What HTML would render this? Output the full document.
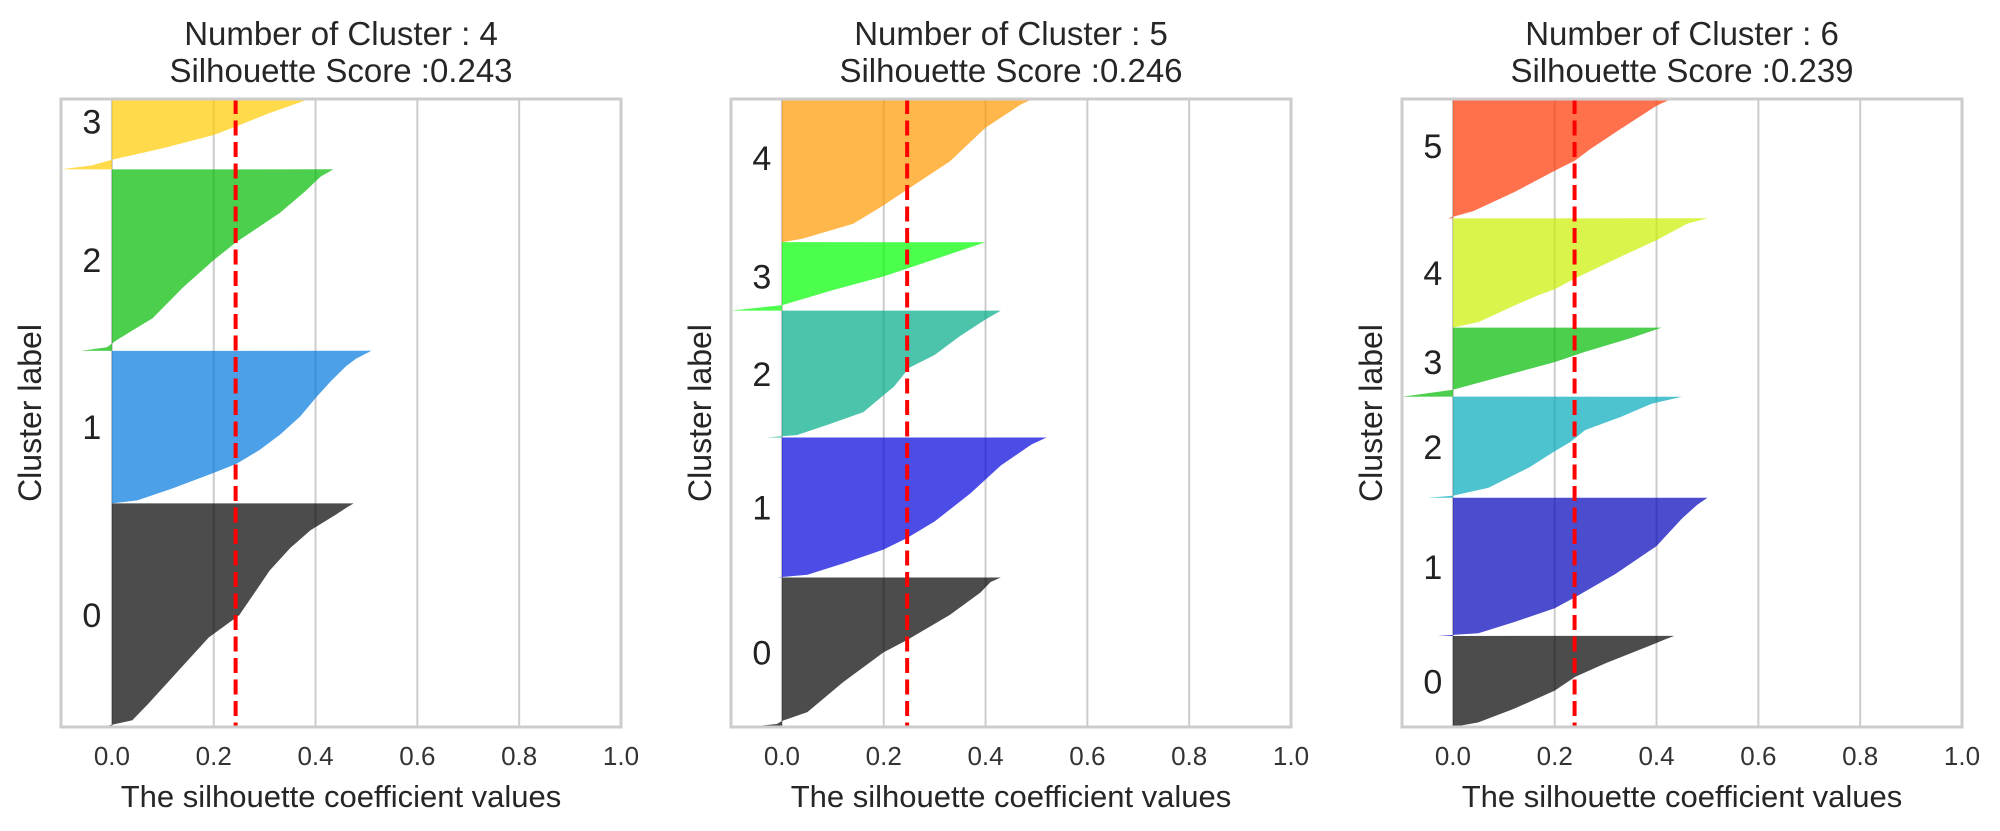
<!DOCTYPE html>
<html><head><meta charset="utf-8"><style>
html,body{margin:0;padding:0;background:#fff;}
svg{display:block;font-family:"Liberation Sans",sans-serif;}
</style></head><body>
<svg id="chart" width="2000" height="831" viewBox="0 0 2000 831" xmlns="http://www.w3.org/2000/svg"></svg>
<script>
// ---- data ----
const nClusters = [4, 5, 6];
const avgScores = [0.243, 0.246, 0.239];
const xTicks = [0.0, 0.2, 0.4, 0.6, 0.8, 1.0];
const xTickLabels = ["0.0", "0.2", "0.4", "0.6", "0.8", "1.0"];
// cluster y-ranges (axis units, 0..100 visible)
const p1Starts = [0, 35.6, 59.9, 88.8];
const p1Ends = [35.6, 59.9, 88.8, 104];
const p2Starts = [0, 23.8, 46.1, 66.3, 77.2];
const p2Ends = [23.8, 46.1, 66.3, 77.2, 104];
const p3Starts = [0, 14.5, 36.5, 52.6, 63.6, 81.0];
const p3Ends = [14.5, 36.5, 52.6, 63.6, 81.0, 104];
// silhouette profiles: [fraction of cluster height, silhouette value]
const p1Profiles = [
 [[0,-0.02],[0.03,0.04],[0.1,0.07],[0.2,0.11],[0.3,0.15],[0.4,0.19],[0.5,0.25],[0.6,0.28],[0.7,0.31],[0.8,0.35],[0.88,0.39],[0.95,0.44],[0.98,0.46],[1,0.475]],
 [[0,0.0],[0.02,0.05],[0.1,0.12],[0.2,0.2],[0.26,0.245],[0.35,0.29],[0.45,0.33],[0.57,0.37],[0.69,0.4],[0.8,0.43],[0.9,0.46],[0.95,0.48],[1,0.51]],
 [[0,-0.06],[0.02,-0.01],[0.06,0.01],[0.18,0.08],[0.35,0.14],[0.5,0.2],[0.6,0.245],[0.76,0.33],[0.88,0.38],[0.96,0.41],[1,0.435]],
 [[0,-0.1],[0.04,-0.04],[0.1,0.0],[0.22,0.1],[0.36,0.2],[0.44,0.24],[0.59,0.31],[0.74,0.39],[1,0.5]]
];
const p2Profiles = [
 [[0,-0.07],[0.02,-0.01],[0.04,0.0],[0.1,0.05],[0.3,0.12],[0.5,0.2],[0.58,0.245],[0.75,0.33],[0.9,0.39],[0.97,0.41],[1,0.43]],
 [[0,-0.01],[0.02,0.05],[0.1,0.12],[0.2,0.2],[0.28,0.245],[0.4,0.3],[0.6,0.37],[0.8,0.43],[0.95,0.49],[1,0.52]],
 [[0,-0.03],[0.02,0.03],[0.1,0.09],[0.2,0.16],[0.3,0.19],[0.4,0.22],[0.55,0.25],[0.65,0.3],[0.8,0.35],[0.93,0.4],[1,0.43]],
 [[0,-0.1],[0.08,0.0],[0.3,0.1],[0.5,0.2],[0.7,0.28],[0.9,0.36],[1,0.4]],
 [[0,0.0],[0.02,0.04],[0.11,0.14],[0.22,0.2],[0.31,0.245],[0.48,0.33],[0.68,0.4],[0.82,0.47],[0.86,0.5],[1,0.55]]
];
const p3Profiles = [
 [[0,0.0],[0.05,0.05],[0.2,0.12],[0.4,0.2],[0.55,0.24],[0.7,0.3],[0.9,0.39],[0.97,0.42],[1,0.435]],
 [[0,-0.03],[0.02,0.05],[0.1,0.12],[0.2,0.2],[0.28,0.24],[0.45,0.32],[0.65,0.4],[0.85,0.45],[0.95,0.48],[1,0.5]],
 [[0,-0.05],[0.02,0.0],[0.1,0.07],[0.3,0.15],[0.46,0.2],[0.55,0.23],[0.67,0.26],[0.8,0.33],[0.93,0.39],[1,0.45]],
 [[0,-0.1],[0.1,0.0],[0.3,0.1],[0.5,0.2],[0.65,0.26],[0.85,0.35],[1,0.41]],
 [[0,0.0],[0.05,0.05],[0.2,0.12],[0.3,0.17],[0.35,0.2],[0.45,0.24],[0.65,0.33],[0.8,0.4],[0.95,0.46],[1,0.5]],
 [[0,-0.01],[0.05,0.04],[0.18,0.12],[0.33,0.2],[0.4,0.24],[0.48,0.27],[0.62,0.33],[0.78,0.4],[0.86,0.45],[1,0.5]]
];
const p1Colors = ["#000000","#0077dd","#00bb00","#ffcc00"];
const p2Colors = ["#000000","#0000dd","#00aa88","#00ff00","#ff9900"];
const p3Colors = ["#000000","#0000bb","#00aabb","#00bb00","#ccf000","#ff3300"];

const panels = [
 {left:61, starts:p1Starts, ends:p1Ends, profiles:p1Profiles, colors:p1Colors},
 {left:731, starts:p2Starts, ends:p2Ends, profiles:p2Profiles, colors:p2Colors},
 {left:1402, starts:p3Starts, ends:p3Ends, profiles:p3Profiles, colors:p3Colors}
];
const NS = "http://www.w3.org/2000/svg";
const svg = document.getElementById("chart");
const TOP = 99, BOTTOM = 727, W = 560;
function mk(tag, attrs, parent){const e=document.createElementNS(NS,tag);for(const k in attrs)e.setAttribute(k,attrs[k]);(parent||svg).appendChild(e);return e;}

panels.forEach((p, pi) => {
  const xs = v => p.left + (v + 0.1) / 1.1 * W;
  const ys = v => BOTTOM - v / 100 * (BOTTOM - TOP);
  const g = mk("g", {});
  
  
  const cid = "clip" + pi;
  const cp = mk("clipPath", {id: cid}, g);
  mk("rect", {x: p.left, y: TOP, width: W, height: BOTTOM - TOP}, cp);
  xTicks.forEach((t, i) => {
    const gl = mk("line", {x1: xs(t), x2: xs(t), y1: TOP, y2: BOTTOM, stroke: "#cccccc", "stroke-width": 2}, g);
    
    
    const tl = mk("text", {x: xs(t), y: 765, "text-anchor": "middle", "font-size": 26, fill: "#333"}, g);
    tl.textContent = xTickLabels[i];
    
    
  });
  const cg = mk("g", {"clip-path": "url(#" + cid + ")"}, g);
  p.starts.forEach((s, ci) => {
    const e = p.ends[ci];
    const prof = p.profiles[ci];
    let d = "M" + xs(0) + "," + ys(s);
    prof.forEach(([f, v]) => { d += " L" + xs(v).toFixed(1) + "," + ys(s + f * (e - s)).toFixed(1); });
    d += " L" + xs(0) + "," + ys(e) + " Z";
    const path = mk("path", {d: d, fill: p.colors[ci], "fill-opacity": 0.7}, cg);
    
    
    const mid = Math.min((s + e) / 2, 100);
    const lbl = mk("text", {x: xs(-0.058), y: ys(mid) + 12, "font-size": 34, fill: "#222"}, g);
    lbl.textContent = String(ci);
    
    
  });
  const al = mk("line", {x1: xs(avgScores[pi]), x2: xs(avgScores[pi]), y1: TOP, y2: BOTTOM, stroke: "#ff0000", "stroke-width": 4, "stroke-dasharray": "15 6.5"}, g);
  
  
  const fr = mk("rect", {x: p.left, y: TOP, width: W, height: BOTTOM - TOP, fill: "none", stroke: "#cccccc", "stroke-width": 3}, g);
  
  
  const cx = p.left + W / 2;
  const t1 = mk("text", {x: cx, y: 45, "text-anchor": "middle", "font-size": 33, fill: "#262626"}, g);
  t1.textContent = "Number of Cluster : " + nClusters[pi];
  
  
  const t2 = mk("text", {x: cx, y: 82, "text-anchor": "middle", "font-size": 33, fill: "#262626"}, g);
  t2.textContent = "Silhouette Score :" + avgScores[pi].toFixed(3);
  
  
  const xl = mk("text", {x: cx, y: 807, "text-anchor": "middle", "font-size": 31, fill: "#262626"}, g);
  xl.textContent = "The silhouette coefficient values";
  
  
  const yx = p.left - 20;
  const yl = mk("text", {x: yx, y: 413, "text-anchor": "middle", "font-size": 32, fill: "#262626", transform: "rotate(-90 " + yx + " 413)"}, g);
  yl.textContent = "Cluster label";
  
  
});
</script>
</body></html>
